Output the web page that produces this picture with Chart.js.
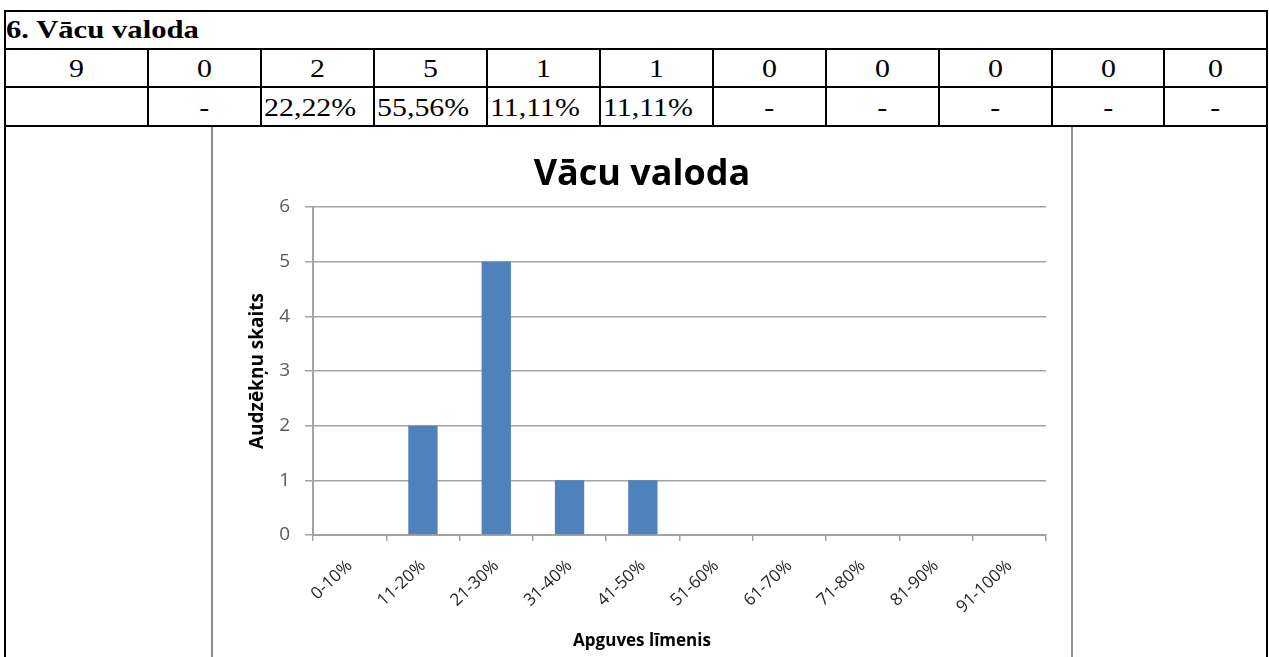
<!DOCTYPE html>
<html>
<head>
<meta charset="utf-8">
<script src="https://cdn.jsdelivr.net/npm/chart.js@4.4.1/dist/chart.umd.min.js"></script>
<style>
  html, body { margin: 0; padding: 0; background: #fff; }
  #page { position: relative; width: 1269px; height: 657px; overflow: hidden; background: #fff;
          font-family: "Liberation Serif", "Times New Roman", serif; color: #000; }
  .hl { position: absolute; height: 2px; background: #000; }
  .vl { position: absolute; width: 2px; background: #000; }
  .cell { position: absolute; display: flex; align-items: center; justify-content: center;
          font-size: 26px; white-space: nowrap; line-height: 1; }
  .cell span { display: inline-block; transform: scaleX(1.15); transform-origin: center center; }
  .cell.left { justify-content: flex-start; padding-left: 2px; box-sizing: border-box; }
  .cell.left span { transform-origin: left center; }
  #hdr { position: absolute; left: 6px; top: 11px; height: 38px; display: flex; align-items: center;
         font-weight: bold; font-size: 26px; white-space: nowrap; line-height: 1; }
  #hdr span { display: inline-block; transform: scaleX(1.18); transform-origin: left center; }
  #chartBox { position: absolute; left: 211px; top: 126px; width: 858px; height: 560px;
              border-left: 2px solid #8e8e8e; border-right: 2px solid #8e8e8e; border-top: 1px solid #d4d4d4;
              background: #fff; }
  #chartWrap { position: absolute; left: 213px; top: 127px; width: 858px; height: 530px; }
</style>
</head>
<body>
<div id="page">
  <div id="hdr"><span>6. Vācu valoda</span></div>
  <div id="chartBox"></div>
  <div id="chartWrap"><canvas id="c"></canvas></div>
</div>
<script>
// ---- data ----
const categories = ['0-10%', '11-20%', '21-30%', '31-40%', '41-50%', '51-60%', '61-70%', '71-80%', '81-90%', '91-100%'];
const students = [0, 2, 5, 1, 1, 0, 0, 0, 0, 0];
const tableCounts = ['9', '0', '2', '5', '1', '1', '0', '0', '0', '0', '0'];
const tablePercents = ['', '-', '22,22%', '55,56%', '11,11%', '11,11%', '-', '-', '-', '-', '-'];
const chartTitle = 'Vācu valoda';
const xTitle = 'Apguves līmenis';
const yTitle = 'Audzēkņu skaits';
const yMin = 0, yMax = 6, yStep = 1;

// ---- table layout ----
const page = document.getElementById('page');
const colEdges = [4, 147, 260, 373, 486, 599, 712, 825, 938, 1051, 1163, 1266];
const rowEdges = [10, 48, 86, 125];
function add(cls, style, text) {
  const d = document.createElement('div');
  d.className = cls;
  Object.assign(d.style, style);
  if (text !== undefined) { const s = document.createElement('span'); s.textContent = text; d.appendChild(s); }
  page.appendChild(d);
  return d;
}
rowEdges.forEach(y => add('hl', { left: colEdges[0] + 'px', top: y + 'px', width: (colEdges[colEdges.length - 1] - colEdges[0] + 2) + 'px' }));
add('vl', { left: colEdges[0] + 'px', top: rowEdges[0] + 'px', height: (657 - rowEdges[0]) + 'px' });
add('vl', { left: colEdges[colEdges.length - 1] + 'px', top: rowEdges[0] + 'px', height: (657 - rowEdges[0]) + 'px' });
for (let i = 1; i < colEdges.length - 1; i++) {
  add('vl', { left: colEdges[i] + 'px', top: rowEdges[1] + 'px', height: (rowEdges[3] - rowEdges[1] + 2) + 'px' });
}
for (let i = 0; i < tableCounts.length; i++) {
  const l = colEdges[i] + 2, w = colEdges[i + 1] - colEdges[i] - 2;
  add('cell', { left: l + 'px', top: (rowEdges[1] + 3) + 'px', width: w + 'px', height: (rowEdges[2] - rowEdges[1] - 2) + 'px' }, tableCounts[i]);
  const p = tablePercents[i];
  const isPct = p.indexOf('%') >= 0;
  add('cell' + (isPct ? ' left' : ''), { left: l + 'px', top: (rowEdges[2] + 3) + 'px', width: w + 'px', height: (rowEdges[3] - rowEdges[2] - 2) + 'px' }, p);
}

// ---- chart ----
const gridColor = '#a3a3a3';
new Chart(document.getElementById('c'), {
  type: 'bar',
  data: {
    labels: categories,
    datasets: [{
      data: students,
      backgroundColor: '#4F81BD',
      borderWidth: 0,
      categoryPercentage: 1.0,
      barPercentage: 0.4
    }]
  },
  options: {
    responsive: true,
    maintainAspectRatio: false,
    animation: false,
    layout: { padding: { left: 25, right: 25, top: 0, bottom: 0 } },
    plugins: {
      legend: { display: false },
      tooltip: { enabled: false },
      title: {
        display: true, text: chartTitle, color: '#000',
        font: { family: 'Open Sans', size: 36, weight: 'bold', lineHeight: 1.2 },
        padding: { top: 26, bottom: 10.8 }
      },
      subtitle: {
        display: true, position: 'bottom', text: xTitle, color: '#000',
        font: { family: 'Open Sans', size: 17, weight: 'bold', lineHeight: 1.2 },
        padding: { top: 4, bottom: 6 }
      }
    },
    scales: {
      x: {
        afterFit: (s) => { s.height = 91.6; },
        grid: { display: true, drawOnChartArea: false, drawTicks: true, tickLength: 6, offset: true, color: gridColor, lineWidth: 1.5 },
        border: { display: true, color: gridColor, width: 2 },
        ticks: {
          color: '#262626', minRotation: 43, maxRotation: 43, padding: 15, autoSkip: false,
          font: { family: 'Open Sans', size: 17 }
        }
      },
      y: {
        min: yMin, max: yMax,
        afterFit: (s) => { s.width = 75; },
        grid: { color: gridColor, lineWidth: 1.5, drawTicks: true, tickLength: 8 },
        border: { display: true, color: gridColor, width: 2 },
        ticks: { stepSize: yStep, color: '#5a5a5a', padding: 15, font: { family: 'Open Sans', size: 19 } },
        title: {
          display: true, text: yTitle, color: '#000',
          font: { family: 'Open Sans', size: 19, weight: 'bold', lineHeight: 1.2 },
          padding: { top: 8, bottom: 0 }
        }
      }
    }
  }
});
</script>
</body>
</html>
